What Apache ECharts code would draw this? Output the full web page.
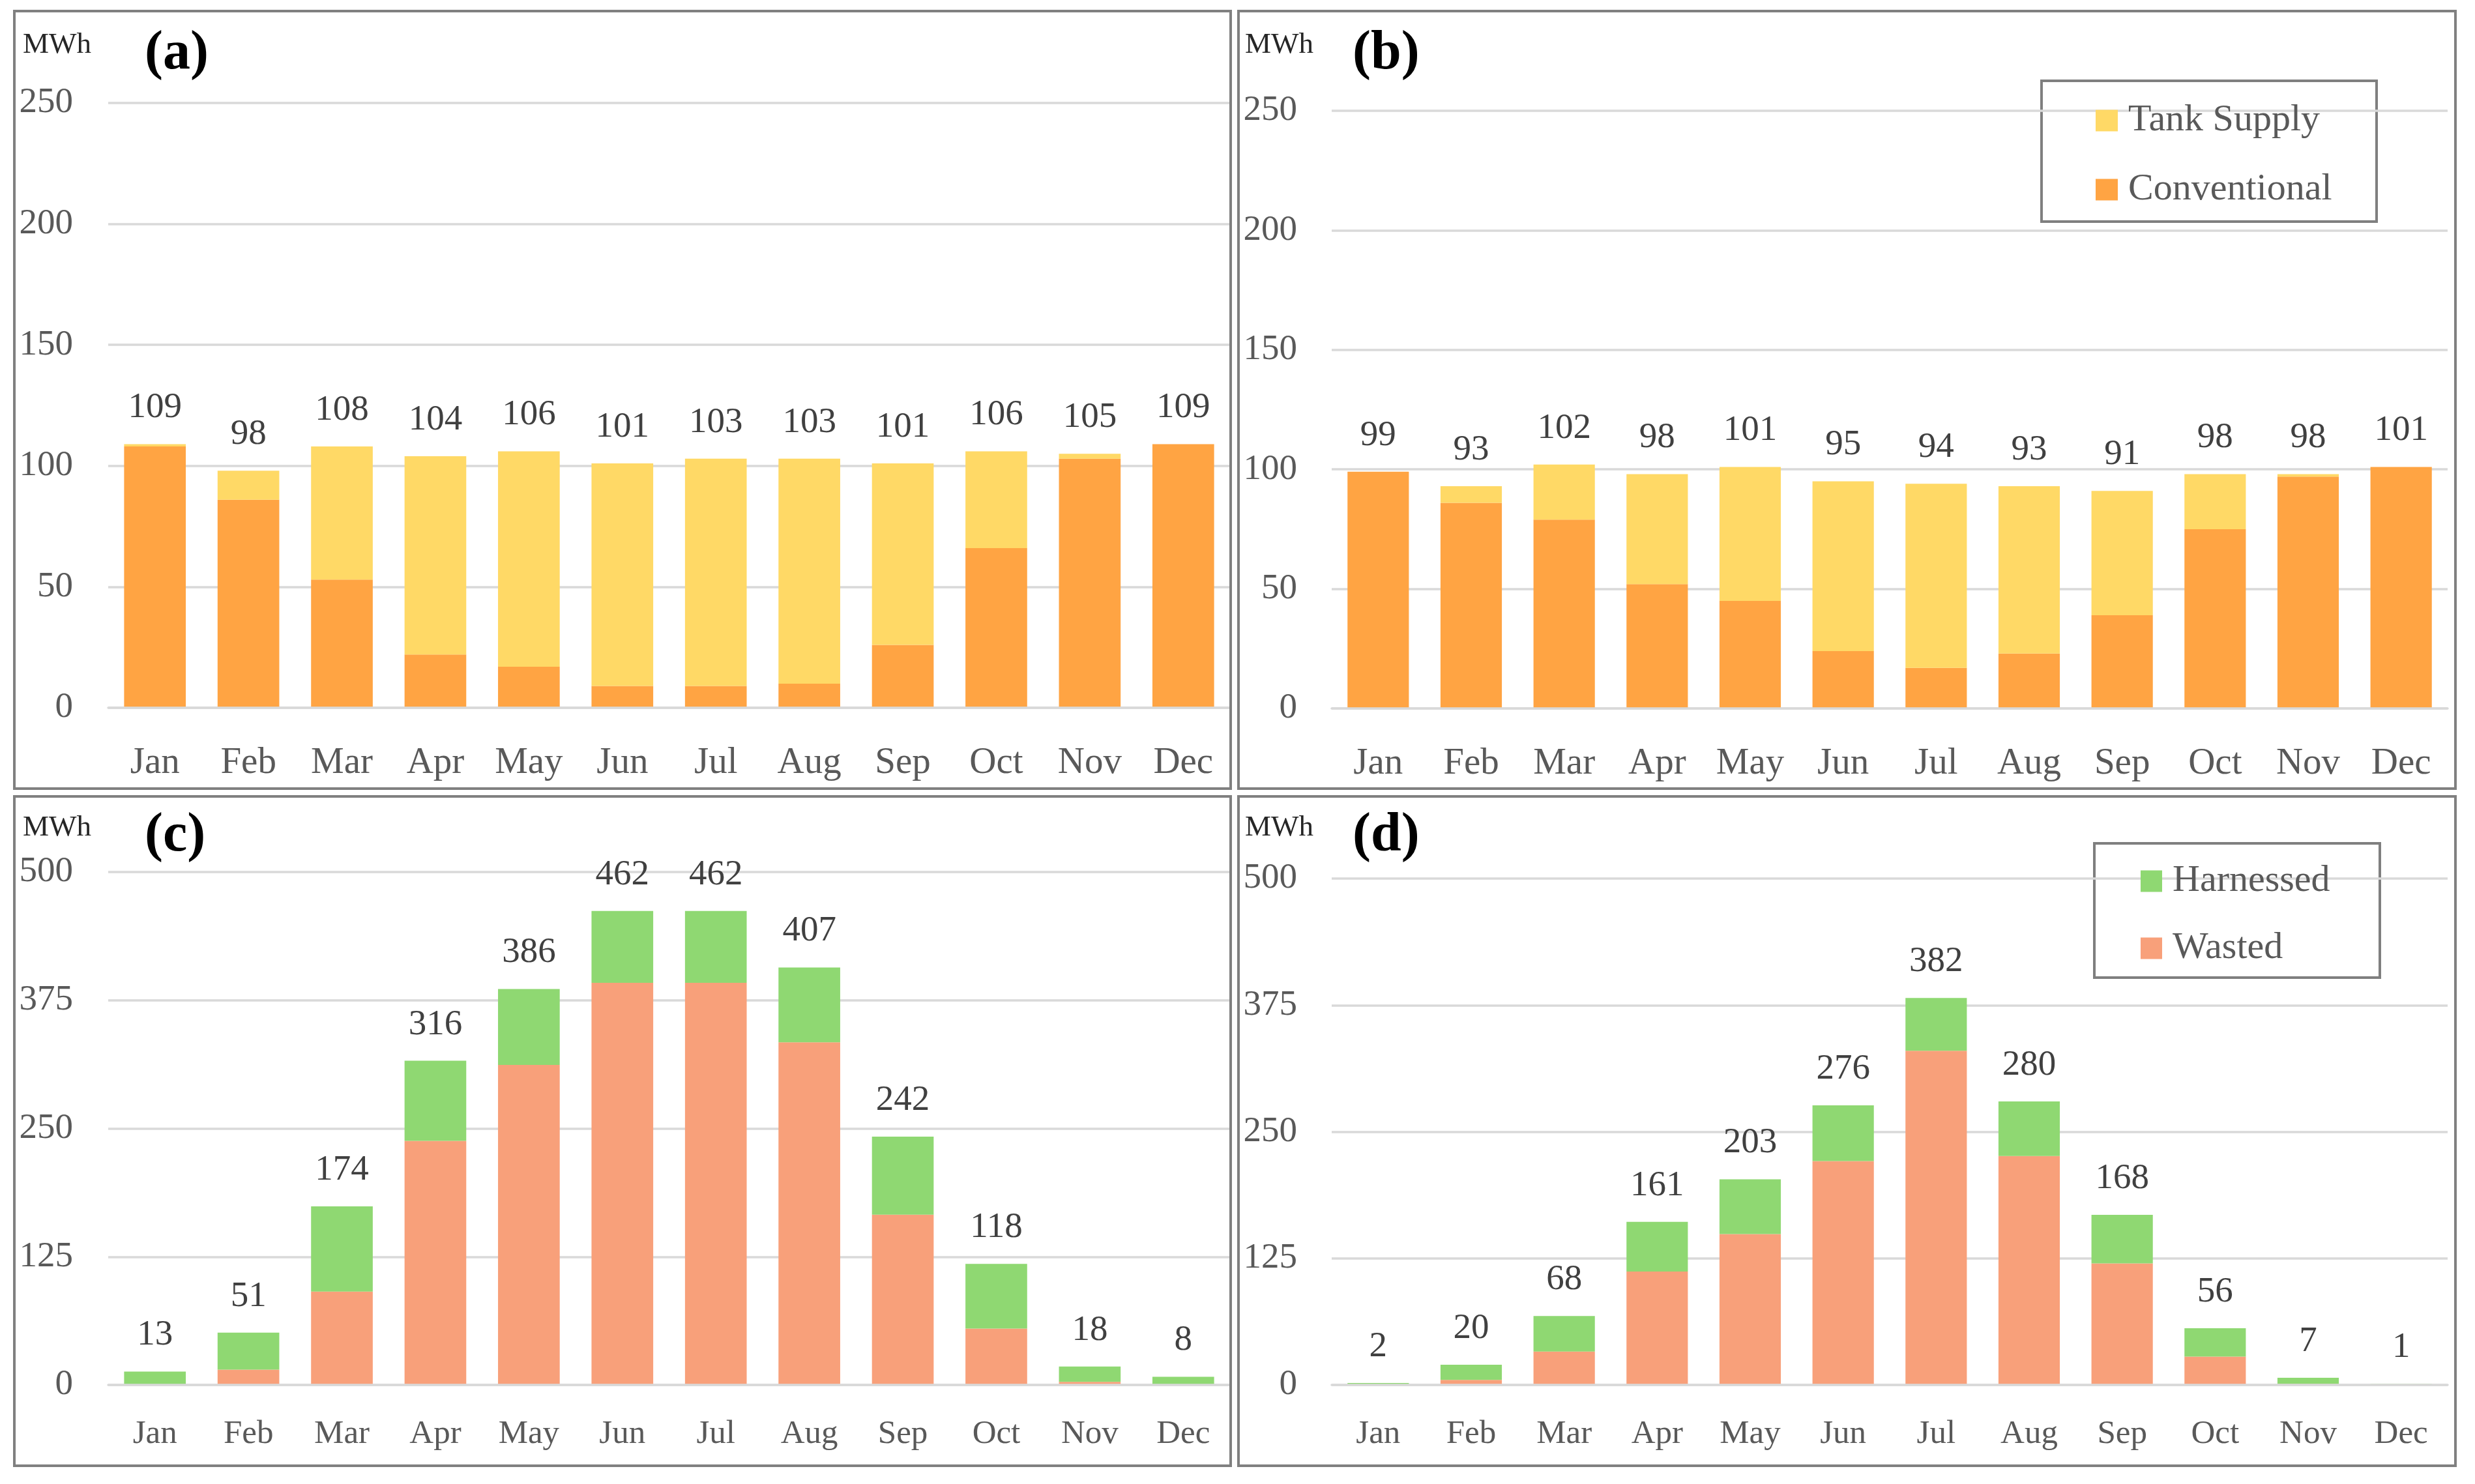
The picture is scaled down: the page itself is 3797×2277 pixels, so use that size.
<!DOCTYPE html>
<html>
<head>
<meta charset="utf-8">
<script src="https://cdn.jsdelivr.net/npm/echarts@6/dist/echarts.min.js"></script>
<style>
html,body{margin:0;padding:0;background:#fff;}
#chart{width:3797px;height:2277px;}
</style>
</head>
<body>
<div id="chart"></div>
<script>
// ---- data ----
const months = ['Jan','Feb','Mar','Apr','May','Jun','Jul','Aug','Sep','Oct','Nov','Dec'];

// (a)
const aConventional = [108, 86, 53, 22, 17, 9, 9, 10, 26, 66, 103, 109];
const aTankSupply   = [1, 12, 55, 82, 89, 92, 94, 93, 75, 40, 2, 0];
const aTotal        = [109, 98, 108, 104, 106, 101, 103, 103, 101, 106, 105, 109];

// (b)
const bConventional = [99, 86, 79, 52, 45, 24, 17, 23, 39, 75, 97, 101];
const bTankSupply   = [0, 7, 23, 46, 56, 71, 77, 70, 52, 23, 1, 0];
const bTotal        = [99, 93, 102, 98, 101, 95, 94, 93, 91, 98, 98, 101];

// (c)
const cWasted    = [0, 15, 91, 238, 312, 392, 392, 334, 166, 55, 3, 0];
const cHarnessed = [13, 36, 83, 78, 74, 70, 70, 73, 76, 63, 15, 8];
const cTotal     = [13, 51, 174, 316, 386, 462, 462, 407, 242, 118, 18, 8];

// (d)
const dWasted    = [0, 5, 33, 112, 149, 221, 330, 226, 120, 28, 1, 0];
const dHarnessed = [2, 15, 35, 49, 54, 55, 52, 54, 48, 28, 6, 1];
const dTotal     = [2, 20, 68, 161, 203, 276, 382, 280, 168, 56, 7, 1];

const topAxisMax = 250, topAxisStep = 50;
const bottomAxisMax = 500, bottomAxisStep = 125;

// ---- styles ----
const FONT = "'Palatino Linotype','Book Antiqua',Palatino,'Liberation Serif',serif";
const C_CONV = '#FFA443', C_TANK = '#FFD966', C_HARN = '#8FD872', C_WASTE = '#F8A07A';
const GRID_COLOR = '#d9d9d9';

const grids = [
  {left:166, right:1910, top:158, bottom:1191},
  {left:2043, right:42, top:170, bottom:1190},
  {left:166, right:1910, top:1338, bottom:152},
  {left:2043, right:42, top:1348, bottom:152}
];

function xAx(i){
  const top = i < 2;
  return {
    type:'category', gridIndex:i, data:months, z:3,
    axisLine:{show:true, lineStyle:{color:GRID_COLOR, width:3.5}}, axisTick:{show:false},
    axisLabel:{color:'#595959', fontFamily:FONT, fontSize: top ? 57 : 51, margin: top ? 57 : 50}
  };
}
function yAx(i, max, step){
  return {
    type:'value', gridIndex:i, min:0, max:max, interval:step,
    axisLine:{show:false}, axisTick:{show:false},
    splitLine:{lineStyle:{color:GRID_COLOR, width:3.5}},
    axisLabel:{color:'#595959', fontFamily:FONT, fontSize:55, margin:i%2===0?54:53}
  };
}

function panelSeries(i, botName, botData, botColor, topName, topData, topColor, totals){
  const common = {type:'bar', xAxisIndex:i, yAxisIndex:i, barCategoryGap:'34%', barGap:'-100%'};
  return [
    Object.assign({}, common, {name:botName, stack:'s'+i, data:botData, itemStyle:{color:botColor}}),
    Object.assign({}, common, {name:topName, stack:'s'+i, data:topData, itemStyle:{color:topColor}}),
    Object.assign({}, common, {name:'Total'+i, data:totals, silent:true, z:1,
      itemStyle:{color:'rgba(0,0,0,0)'},
      label:{show:true, position:'top', distance:28, color:'#404040', fontFamily:FONT, fontSize:55}})
  ];
}

const series = [].concat(
  panelSeries(0,'Conventional',aConventional,C_CONV,'Tank Supply',aTankSupply,C_TANK,aTotal),
  panelSeries(1,'Conventional',bConventional,C_CONV,'Tank Supply',bTankSupply,C_TANK,bTotal),
  panelSeries(2,'Wasted',cWasted,C_WASTE,'Harnessed',cHarnessed,C_HARN,cTotal),
  panelSeries(3,'Wasted',dWasted,C_WASTE,'Harnessed',dHarnessed,C_HARN,dTotal)
);

function frame(x,y,w,h){
  return {type:'rect', shape:{x:x,y:y,width:w,height:h}, style:{fill:'none', stroke:'#808080', lineWidth:4}, z:100};
}
function txt(x,y,t,size,bold,color){
  return {type:'text', x:x, y:y, z:100, style:{text:t, fontFamily:FONT, fontSize:size, fontWeight:bold?'bold':'normal', fill:color, textAlign:'left', textVerticalAlign:'middle'}};
}

const legendText = {color:'#595959', fontFamily:FONT, fontSize:58, lineHeight:58, padding:[0,0,0,11]};

const option = {
  animation:false,
  backgroundColor:'#fff',
  grid:grids,
  xAxis:[xAx(0),xAx(1),xAx(2),xAx(3)],
  yAxis:[yAx(0,topAxisMax,topAxisStep),yAx(1,topAxisMax,topAxisStep),yAx(2,bottomAxisMax,bottomAxisStep),yAx(3,bottomAxisMax,bottomAxisStep)],
  legend:[
    {data:['Tank Supply','Conventional'], orient:'vertical', left:3210, top:151, itemGap:48,
     itemWidth:34, itemHeight:33, icon:'rect', textStyle:legendText, selectedMode:false},
    {data:['Harnessed','Wasted'], orient:'vertical', left:3279, top:1318, itemGap:45,
     itemWidth:33, itemHeight:33, icon:'rect', textStyle:legendText, selectedMode:false}
  ],
  graphic:[
    frame(22,17,1866,1193), frame(1900,17,1867,1193),
    frame(22,1222,1866,1027), frame(1900,1222,1867,1027),
    {type:'rect', shape:{x:3132,y:124,width:514,height:216}, style:{fill:'#fff', stroke:'#7f7f7f', lineWidth:4}, z:-1},
    {type:'rect', shape:{x:3213,y:1294,width:438,height:206}, style:{fill:'#fff', stroke:'#7f7f7f', lineWidth:4}, z:-1},
    txt(35,69,'MWh',45,false,'#262626'), txt(222,83,'(a)',84,true,'#000'),
    txt(1910,69,'MWh',45,false,'#262626'), txt(2075,83,'(b)',84,true,'#000'),
    txt(35,1270,'MWh',45,false,'#262626'), txt(222,1283,'(c)',84,true,'#000'),
    txt(1910,1270,'MWh',45,false,'#262626'), txt(2075,1283,'(d)',84,true,'#000')
  ],
  series:series
};

const chart = echarts.init(document.getElementById('chart'), null, {renderer:'canvas', width:3797, height:2277});
chart.setOption(option);
</script>
</body>
</html>
